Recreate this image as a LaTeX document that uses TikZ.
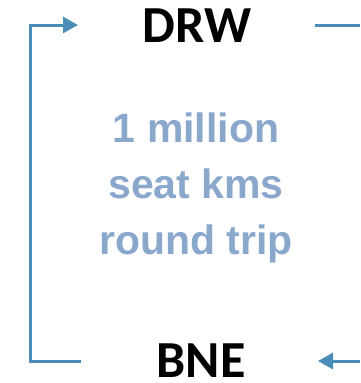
\documentclass[tikz,border=0pt]{standalone}
\usepackage{fontspec}
\setmainfont{Carlito}
\newfontfamily\midfont{Liberation Sans}
\usetikzlibrary{arrows.meta}
\definecolor{arrowblue}{HTML}{4A8DB8}
\definecolor{textblue}{HTML}{8AA8CC}
\begin{document}
\begin{tikzpicture}[x=1pt,y=-1pt,
  conn/.style={draw=arrowblue,line width=3pt,-{Triangle[length=15pt,width=16pt]}},
  connplain/.style={draw=arrowblue,line width=3pt},
  city/.style={font=\fontsize{52}{52}\selectfont\bfseries,anchor=base,inner sep=0pt}]
\useasboundingbox (0,0) rectangle (360,383);
\node[city] (drw) at (197,42) {DRW};
\node[city] (bne) at (201,377) {BNE};
\node[font=\midfont\fontsize{41}{56}\selectfont\bfseries,text=textblue,align=center,anchor=center,inner sep=0pt] (mid) at (196,188) {1 million\\seat kms\\round trip};
\coordinate (lt) at (30,25);
\coordinate (lb) at (30,361);
\coordinate (ltend) at (78,25);
\coordinate (lbend) at (81,361);
\coordinate (rt) at (315,25);
\coordinate (rtend) at (360,25);
\coordinate (rb) at (360,361);
\coordinate (rbend) at (318,361);
\draw[conn] (lbend) -- (lb) -- (lt) -- (ltend);
\draw[connplain] (rt) -- (rtend);
\draw[conn] (rb) -- (rbend);
\end{tikzpicture}
\end{document}
